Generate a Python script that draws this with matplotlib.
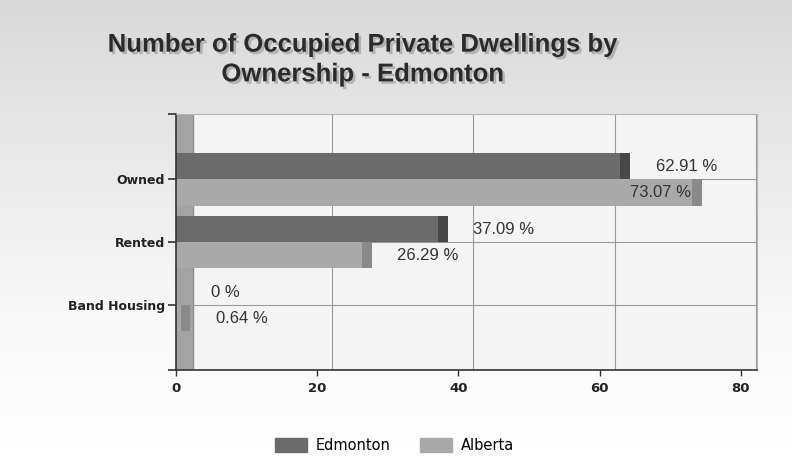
''' Occupied private dwellings by ownership, Edmonton vs Alberta '''
import numpy as np
import matplotlib
matplotlib.use('Agg')
import matplotlib.pyplot as plt
import matplotlib.patheffects as pe
from matplotlib.patches import Patch

categories = ['Owned', 'Rented', 'Band Housing']
edmonton = [62.91, 37.09, 0.0]
alberta = [73.07, 26.29, 0.64]
series_names = ['Edmonton', 'Alberta']
xticks = [0, 20, 40, 60, 80]

# colours: front face / side face of the fake 3d bars
edm_front, edm_side = '#6b6b6b', '#474747'
alb_front, alb_side = '#a9a9a9', '#8a8a8a'

depth = 1.4       # bar side face width (data units)
grid_shift = 2.1  # back wall offset for gridlines
bar_h = 0.415

fig = plt.figure(figsize=(7.92, 4.66), dpi=100)

# grey to white background
bg = fig.add_axes([0, 0, 1, 1], zorder=-10)
grad = np.linspace(0, 1, 256).reshape(-1, 1)
bg.imshow(grad, aspect='auto', cmap=matplotlib.colors.LinearSegmentedColormap.from_list(
    'bg', ['#d9d9d9', '#e9e9e9', '#f8f8f8', '#ffffff']), extent=[0, 1, 0, 1])
bg.axis('off')

ax = fig.add_axes([176/792, 1-370/466, (757-176)/792, (370-114)/466])
ax.set_facecolor('#f4f4f4')
ax.set_xlim(0, 82.27)
ax.set_ylim(3.03, -1.04)

y = np.arange(len(categories))

# left wall
ax.axvspan(0, 2.4, color='#a3a3a3', zorder=1)
ax.axvline(2.4, color='#8c8c8c', lw=0.8, zorder=1)

# gridlines drawn against the back wall
for t in xticks[1:]:
    ax.axvline(t + grid_shift, color='#9a9a9a', lw=0.8, zorder=0.5)
for yy in y:
    ax.axhline(yy, color='#9a9a9a', lw=0.8, zorder=0.5)

def draw_series(vals, offset, front, side):
    ys = y + offset
    ax.barh(ys, vals, height=bar_h, color=front, zorder=2)
    for v, yy in zip(vals, ys):
        label = f'{v:.2f} %' if v > 0 else '0 %'
        if v > 0:
            ax.barh(yy, depth, left=v, height=bar_h, color=side, zorder=2)
        # labels that would run off the right edge go inside the bar
        if v + 5 > 70:
            ax.text(v - 0.2, yy, label, ha='right', va='center',
                    fontsize=12, color='#333333', family='Liberation Sans', zorder=3)
        else:
            ax.text(v + 5, yy, label, ha='left', va='center',
                    fontsize=12, color='#333333', family='Liberation Sans', zorder=3)

draw_series(edmonton, -bar_h/2, edm_front, edm_side)
draw_series(alberta, bar_h/2, alb_front, alb_side)

ax.set_yticks(y)
ax.set_yticklabels(categories, fontsize=9, fontweight='bold', color='#222222')
ax.set_xticks(xticks)
ax.set_xticklabels([str(t) for t in xticks], fontsize=9.5, fontweight='bold', color='#222222')
ax.set_yticks([-1.04, 3.03], minor=True)
ax.tick_params(axis='y', which='both', length=6, width=1.2, color='#333333', pad=2)
ax.tick_params(axis='x', length=4, width=1, color='#333333', pad=5)

for s in ['top', 'right']:
    ax.spines[s].set_color('#b5b5b5')
    ax.spines[s].set_linewidth(0.8)
for s in ['left', 'bottom']:
    ax.spines[s].set_color('#333333')
    ax.spines[s].set_linewidth(1.2)

fig.text(363/792, 1-59.5/466, 'Number of Occupied Private Dwellings by\nOwnership - Edmonton',
         ha='center', va='center', fontsize=18.5, fontweight='bold', color='#2b2b2b',
         family='Liberation Sans', linespacing=1.3,
         path_effects=[pe.SimplePatchShadow(offset=(1.8, -1.8), shadow_rgbFace='#888888', alpha=0.5),
                       pe.Normal()])

handles = [Patch(color=edm_front), Patch(color=alb_front)]
fig.legend(handles, series_names, loc='center', bbox_to_anchor=(0.498, 1-445/466), ncol=2,
           frameon=False, fontsize=10.5, handlelength=2.2, handleheight=1.1,
           columnspacing=2.0, handletextpad=0.6)

fig.savefig('out.png', dpi=100)
